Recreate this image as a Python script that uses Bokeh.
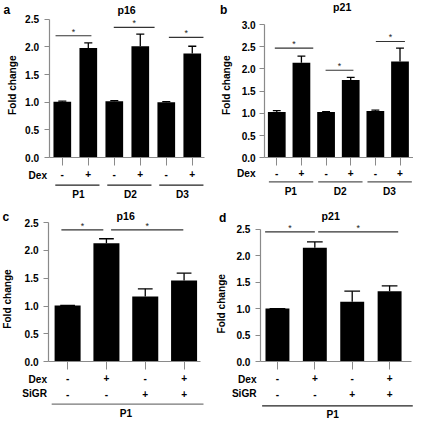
import numpy as np
from bokeh.plotting import figure
from bokeh.layouts import row, column
from bokeh.models import (ColumnDataSource, FixedTicker, Label, LabelSet, Arrow,
                          NumeralTickFormatter)
from bokeh.embed import file_html
from bokeh.resources import INLINE
from bokeh.core.properties import value

# ---------------- data ----------------
ticks_25 = [0.0, 0.5, 1.0, 1.5, 2.0, 2.5]
ticks_30 = [0.0, 0.5, 1.0, 1.5, 2.0, 2.5, 3.0]

# panel a : p16, three cell lines
a_title = "p16"
a_values = [1.01, 1.98, 1.02, 2.01, 1.00, 1.88]
a_errors = [0.01, 0.09, 0.01, 0.22, 0.01, 0.13]
a_dex = ["-", "+", "-", "+", "-", "+"]
a_groups = ["P1", "D2", "D3"]
a_group_bars = [[0, 1], [2, 3], [4, 5]]
a_sig_x0 = [-0.26, 1.98, 4.10]
a_sig_x1 = [1.12, 3.55, 5.43]
a_sig_y = [2.20, 2.35, 2.17]

# panel b : p21, three cell lines
b_title = "p21"
b_values = [1.03, 2.14, 1.03, 1.75, 1.05, 2.17]
b_errors = [0.03, 0.15, 0.01, 0.06, 0.02, 0.30]
b_dex = ["-", "+", "-", "+", "-", "+"]
b_groups = ["P1", "D2", "D3"]
b_group_bars = [[0, 1], [2, 3], [4, 5]]
b_sig_x0 = [-0.08, 1.98, 4.02]
b_sig_x1 = [1.48, 3.11, 5.20]
b_sig_y = [2.47, 1.97, 2.62]

# panel c : p16, Dex / SiGR
c_title = "p16"
c_values = [1.01, 2.13, 1.17, 1.46]
c_errors = [0.00, 0.08, 0.14, 0.13]
c_dex = ["-", "+", "-", "+"]
c_sigr = ["-", "-", "+", "+"]
c_groups = ["P1"]
c_group_bars = [[0, 3]]
c_sig_x0 = [-0.16, 1.12]
c_sig_x1 = [0.92, 2.98]
c_sig_y = [2.37, 2.37]

# panel d : p21, Dex / SiGR
d_title = "p21"
d_values = [1.00, 2.15, 1.13, 1.33]
d_errors = [0.00, 0.11, 0.20, 0.10]
d_dex = ["-", "+", "-", "+"]
d_sigr = ["-", "-", "+", "+"]
d_groups = ["P1"]
d_group_bars = [[0, 3]]
d_sig_x0 = [-0.33, 1.09]
d_sig_x1 = [1.00, 3.23]
d_sig_y = [2.45, 2.45]

# ---------------- layout / style ----------------
S = 413 / 429.0
FONT = "Liberation Sans"
AXIS_GRAY = "#8a8a8a"


def fs(px):
    return "%.1fpx" % (px * S)


def txt(x, y, text, size, align="center", baseline="middle", bold=True, angle=0.0,
        color="black"):
    return Label(x=x, y=y, text=text, text_align=align, text_baseline=baseline,
                 text_font=FONT, text_font_style="bold" if bold else "normal",
                 text_font_size=fs(size), text_color=color, angle=angle)


def build(cfg, title, letter, yticks, values, errors, dex, groups, group_bars,
          sig_x0, sig_x1, sig_y, sigr=None):
    n = len(values)
    xs = list(range(n))
    L, R, T, B = cfg["L"], cfg["R"], cfg["T"], cfg["B"]
    ymax = yticks[-1]
    ppu = (B - T) / ymax
    step = cfg["step"]
    W, H = cfg["W"], cfg["H"]
    ox, oy = cfg["ox"], cfg["oy"]
    w, h = W / S, H / S

    def X(xref):
        return (xref - cfg["x0"]) / step

    def Y(yref):
        return (B - yref) / ppu

    p = figure(width=W, height=H, x_range=(X(ox), X(ox + w)),
               y_range=(Y(oy + h), Y(oy)),
               output_backend="svg", toolbar_location=None, min_border=0)
    p.outline_line_color = None
    p.grid.visible = False
    p.background_fill_color = "white"
    p.border_fill_color = "white"

    # y axis, drawn at the left edge of the bar area
    ya = p.yaxis[0]
    ya.fixed_location = X(L)
    ya.bounds = (0, ymax)
    ya.ticker = FixedTicker(ticks=yticks)
    ya.formatter = NumeralTickFormatter(format="0.0")
    ya.axis_line_color = AXIS_GRAY
    ya.axis_line_width = 1.2
    ya.major_tick_line_color = AXIS_GRAY
    ya.minor_tick_line_color = None
    ya.major_tick_in = 0
    ya.major_tick_out = round(5 * S)
    ya.major_label_standoff = round(cfg["ylab_standoff"] * S)
    ya.major_label_text_font = FONT
    ya.major_label_text_font_style = "bold"
    ya.major_label_text_font_size = fs(10.5)
    ya.major_label_text_color = "black"

    # x axis at y = 0: Dex row
    xa = p.xaxis[0]
    xa.fixed_location = 0
    xa.bounds = (X(L), X(R))
    xa.ticker = FixedTicker(ticks=xs)
    xa.major_label_overrides = {i: s for i, s in enumerate(dex)}
    xa.axis_line_color = AXIS_GRAY
    xa.axis_line_width = 1.2
    xa.major_tick_line_color = AXIS_GRAY
    xa.minor_tick_line_color = None
    xa.major_tick_in = 0
    xa.major_tick_out = round(8 * S)
    xa.major_label_standoff = round(cfg["xlab_standoff"] * S)
    xa.major_label_text_font = FONT
    xa.major_label_text_font_style = "bold"
    xa.major_label_text_font_size = fs(10.5)
    xa.major_label_text_color = "black"

    # bars
    src = ColumnDataSource(dict(x=xs, top=values,
                                etop=[v + e for v, e in zip(values, errors)]))
    p.vbar(x="x", top="top", bottom=0, width=cfg["bw"], source=src,
           fill_color="black", line_color=None)
    # error bars
    cap = cfg["cap"]
    p.segment(x0="x", y0="top", x1="x", y1="etop", source=src,
              line_color="black", line_width=1.3)
    esrc = ColumnDataSource(dict(x0=[x - cap for x in xs], x1=[x + cap for x in xs],
                                 y=src.data["etop"]))
    p.segment(x0="x0", y0="y", x1="x1", y1="y", source=esrc,
              line_color="black", line_width=1.3)

    # significance lines
    ssrc = ColumnDataSource(dict(x0=sig_x0, x1=sig_x1, y=sig_y,
                                 xc=[(a + b) / 2 for a, b in zip(sig_x0, sig_x1)],
                                 t=["*"] * len(sig_y)))
    p.segment(x0="x0", y0="y", x1="x1", y1="y", source=ssrc,
              line_color="#333333", line_width=1.1)
    p.add_layout(LabelSet(x="xc", y="y", text="t", source=ssrc, y_offset=1,
                          text_align="center", text_baseline="alphabetic",
                          text_font=value(FONT), text_font_size=fs(9),
                          text_color="#222222"))

    # y axis title
    p.add_layout(txt(X(cfg["fc_x"]), (Y(cfg["fc_top"]) + Y(cfg["fc_bot"])) / 2,
                     "Fold change", 10.5, angle=np.pi / 2))

    # row labels
    p.add_layout(txt(X(cfg["row_right"]), -cfg["dex_dy"] / ppu, "Dex", 10.5,
                     align="right"))
    if sigr is not None:
        p.add_layout(txt(X(cfg["row_right"]), -cfg["sigr_dy"] / ppu, "SiGR", 10.5,
                         align="right"))
        rsrc = ColumnDataSource(dict(x=xs, y=[-cfg["sigr_dy"] / ppu] * n, t=sigr))
        p.add_layout(LabelSet(x="x", y="y", text="t", source=rsrc,
                              text_align="center", text_baseline="middle",
                              text_font=value(FONT), text_font_style="bold",
                              text_font_size=fs(10.5), text_color="black"))

    # group underline + labels
    padl, padr = cfg["pad"]
    gsrc = ColumnDataSource(dict(
        x0=[g[0] - padl for g in group_bars],
        x1=[g[-1] + padr for g in group_bars],
        y=[-cfg["line_dy"] / ppu] * len(groups),
        xc=[(g[0] + g[-1]) / 2 + cfg["group_dx"] for g in group_bars],
        yl=[-cfg["group_dy"] / ppu] * len(groups),
        t=groups))
    p.segment(x0="x0", y0="y", x1="x1", y1="y", source=gsrc,
              line_color=cfg["line_color"], line_width=1.2)
    p.add_layout(LabelSet(x="xc", y="yl", text="t", source=gsrc,
                          text_align="center", text_baseline="middle",
                          text_font=value(FONT), text_font_style="bold",
                          text_font_size=fs(10.5), text_color="black"))

    # title and panel letter
    p.add_layout(txt(X(cfg["title_cx"]), Y(cfg["title_cy"]), title, 11))
    p.add_layout(txt(X(cfg["letter_x"]), Y(cfg["letter_base"]), letter, 12.5,
                     align="left", baseline="alphabetic"))
    return p


cfg_a = dict(ox=0, oy=0, W=206, H=208, L=50.5, R=212, T=19.3, B=163.3, x0=64.2,
             step=27.0, bw=0.68, cap=0.155, xlab_standoff=4, ylab_standoff=5,
             fc_x=12, fc_top=58, fc_bot=118,
             dex_dy=18.4, row_right=48.3, line_dy=28.4, pad=(0.27, 0.43),
             line_color="#222222", group_dy=38.4, group_dx=0.12,
             title_cx=131, title_cy=9.5, letter_x=3, letter_base=9.5)
cfg_b = dict(ox=214, oy=0, W=207, H=208, L=274.5, R=429, T=25, B=163.3, x0=287,
             step=25.6, bw=0.72, cap=0.16, xlab_standoff=3, ylab_standoff=4,
             fc_x=234.3, fc_top=58, fc_bot=118,
             dex_dy=16.7, row_right=265, line_dy=25, pad=(0.32, 0.48),
             line_color="#555555", group_dy=35, group_dx=0.07,
             title_cx=355, title_cy=7, letter_x=228, letter_base=10)
cfg_c = dict(ox=0, oy=216, W=206, H=213, L=50, R=208, T=230.7, B=375, x0=69.7,
             step=40.33, bw=0.67, cap=0.19, xlab_standoff=4, ylab_standoff=5,
             fc_x=7.5, fc_top=280, fc_bot=340,
             dex_dy=18.3, sigr_dy=33.3, row_right=48.3, line_dy=44.3,
             pad=(0.41, 0.5), line_color="#777777", group_dy=54.3, group_dx=0.0,
             title_cx=130, title_cy=224, letter_x=2, letter_base=225)
cfg_d = dict(ox=214, oy=216, W=207, H=213, L=270, R=427, T=237.5, B=375, x0=287.7,
             step=38.83, bw=0.64, cap=0.21, xlab_standoff=4, ylab_standoff=5,
             fc_x=230, fc_top=285, fc_bot=345,
             dex_dy=18.3, sigr_dy=33.3, row_right=266, line_dy=46,
             pad=(0.41, 0.62), line_color="#222222", group_dy=55, group_dx=-0.02,
             title_cx=343, title_cy=224, letter_x=227, letter_base=226)

pa = build(cfg_a, a_title, "a", ticks_25, a_values, a_errors, a_dex, a_groups,
           a_group_bars, a_sig_x0, a_sig_x1, a_sig_y)
pb = build(cfg_b, b_title, "b", ticks_30, b_values, b_errors, b_dex, b_groups,
           b_group_bars, b_sig_x0, b_sig_x1, b_sig_y)
pc = build(cfg_c, c_title, "c", ticks_25, c_values, c_errors, c_dex, c_groups,
           c_group_bars, c_sig_x0, c_sig_x1, c_sig_y, sigr=c_sigr)
pd_ = build(cfg_d, d_title, "d", ticks_25, d_values, d_errors, d_dex, d_groups,
            d_group_bars, d_sig_x0, d_sig_x1, d_sig_y, sigr=d_sigr)

layout = column(row(pa, pb, spacing=0), row(pc, pd_, spacing=0), spacing=0)
open("out.html", "w").write(file_html(layout, INLINE))
